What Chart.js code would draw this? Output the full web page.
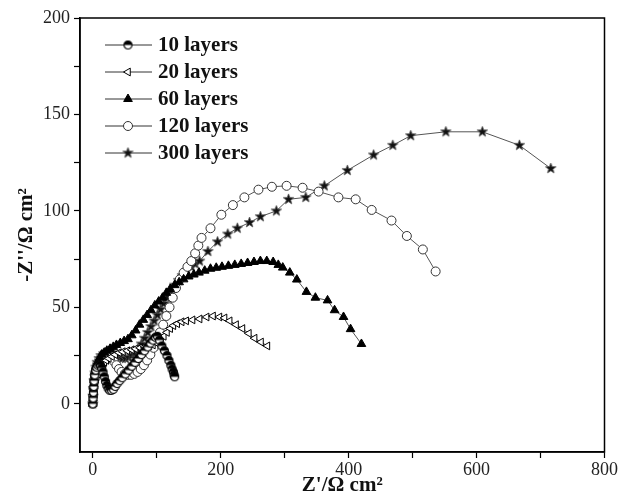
<!DOCTYPE html>
<html lang="en">
<head>
<meta charset="utf-8" />
<title>Nyquist plot - layers</title>
<script src="https://cdn.jsdelivr.net/npm/chart.js/dist/chart.umd.min.js"></script>
<style>
  * { margin: 0; padding: 0; }
  body { background: #fff; }
</style>
</head>
<body>
<canvas id="myChart" width="619" height="501"></canvas>
<script>
// data: [Z', -Z''] in Ohm cm2
const layers10 = [[0,0],[0.5,3],[1,6],[1.5,9],[2,12],[3,15],[4.5,17.5],[6,19],[8,20],[10,20.5],[12,20],[14,18.5],[16,16.5],[18,14],[20,11.5],[22,9.5],[24,8],[26.5,7],[29,7],[32,7.5],[35,9],[38,10.5],[42,12],[46,13.5],[51,15.5],[56,17.5],[61,19.5],[66,21.5],[71,23.5],[76,25.5],[81,27.5],[86,29.5],[90,31.5],[94,33],[98,34.5],[101,35],[104,33],[108,30],[112,27.5],[116,25],[119,22.5],[122,20],[124,18],[126,16.5],[127,15],[128,14]];
const layers20 = [[0,0],[0.5,2.5],[1,5],[2,7.5],[3,10],[4.5,12],[6,14],[8,15.5],[10,17],[12,18.5],[14,19.5],[16,20.5],[18,21.5],[21,22.5],[25,23.5],[30,24.5],[35,25.5],[41,26.5],[47,27],[54,27.5],[61,28],[67,28.5],[74,29],[81,29.5],[88,30],[94,30.5],[100,31.5],[106,33],[111,35],[116,37],[121,39],[126,40.5],[132,41.5],[139,42.5],[146,43],[156,43.5],[167,44],[178,45],[188,45.5],[198,45],[206,44.5],[214,43],[224,41],[234,39],[244,36.5],[253,34],[263,32],[273,30]];
const layers60 = [[0,0],[0.3,3],[0.7,6],[1.2,9],[2,12],[3,15],[4.5,18],[6,20],[8,22],[11,24],[14,25.5],[18,26.5],[22,27.5],[27,28.5],[32,29.5],[37,30.5],[43,31.5],[49,32.5],[55,33.5],[61,35.5],[67,38],[73,41],[79,43.5],[85,46],[91,48.5],[97,51],[103,53],[109,55],[115,57.5],[121,59.5],[128,61.5],[135,63],[142,64.5],[150,66],[158,67],[166,68],[175,69],[184,70],[193,70.5],[202,71],[212,71.5],[222,72],[232,72.5],[242,73],[252,73.5],[262,74],[272,74],[282,73.5],[290,72],[297,70.6],[308,68],[319,64.4],[334,58],[348,55],[367,53.6],[378,48.5],[392,45],[403,38.7],[420,31]];
const layers120 = [[0,0],[0.5,4],[1,8],[2,12],[3,15],[5,18],[7,20.5],[10,22.5],[13,24],[17,25],[21,25.5],[25,25],[29,24],[33,22],[37,20],[41,18],[45,16.5],[50,15.5],[55,15],[60,15],[65,15.5],[70,16.5],[75,18],[80,20],[85,22.5],[90,25.5],[95,29],[100,33],[105,37],[110,41],[115,45.5],[120,50],[125,55],[130,60],[136,64.5],[142,68],[148,71],[154,74],[160,78],[165,82],[170,86],[184,91],[201,98],[219,103],[237,107],[259,111],[280,112.5],[303,113],[328,112],[353,110],[384,107],[411,106],[436,100.5],[467,95],[491,87],[516,80],[536,68.6]];
const layers300 = [[0,0],[0.5,4],[1,8],[2,12],[3.5,16],[5,19],[7,21.5],[10,23.5],[13,25],[17,26],[21,26.5],[26,26.5],[31,26],[36,25],[41,24],[46,23.5],[51,23.5],[56,24],[61,25],[66,26.5],[71,28.5],[76,31],[81,34],[86,37],[91,40],[96,43],[101,46],[106,49],[111,52],[116,55],[122,58.5],[128,61.5],[134,64],[140,66.5],[147,69],[154,71],[160,72.5],[167,74],[180,79],[195,84],[211,88],[226,91],[245,94],[262,97],[287,100],[306,106],[333,107],[362,113],[398,121],[439,129],[469,134],[497,139],[552,141],[609,141],[667,134],[716,122]];

const seriesNames = ["10 layers", "20 layers", "60 layers", "120 layers", "300 layers"];
const xTickValues = [0, 100, 200, 300, 400, 500, 600, 700, 800];
const xTickLabels = [0, 200, 400, 600, 800];
const yTickValues = [0, 25, 50, 75, 100, 125, 150, 175, 200];
const yTickLabels = [0, 50, 100, 150, 200];

// little canvases used as point styles
function makeMarker(size, draw) {
  const c = document.createElement("canvas");
  c.width = size;
  c.height = size;
  draw(c.getContext("2d"), size / 2);
  return c;
}
const halfCircle = makeMarker(11, (g, c) => {
  g.beginPath(); g.arc(c, c, 4, 0, 2 * Math.PI); g.fillStyle = "#fff"; g.fill();
  g.beginPath(); g.arc(c, c, 4, Math.PI, 2 * Math.PI); g.fillStyle = "#000"; g.fill();
  g.beginPath(); g.arc(c, c, 4, 0, 2 * Math.PI); g.lineWidth = 1.2; g.strokeStyle = "#000"; g.stroke();
});
const star = makeMarker(13, (g, c) => {
  g.beginPath();
  for (let i = 0; i < 10; i++) {
    const r = i % 2 === 0 ? 5.5 : 2.3;
    const a = -Math.PI / 2 + i * Math.PI / 5;
    g.lineTo(c + r * Math.cos(a), c + r * Math.sin(a));
  }
  g.closePath();
  g.fillStyle = "#111"; g.fill();
  g.lineWidth = 0.8; g.strokeStyle = "#555"; g.stroke();
});

const pts = arr => arr.map(p => ({ x: p[0], y: p[1] }));

const data = {
  datasets: [
    { label: seriesNames[0], data: pts(layers10), pointStyle: halfCircle, pointRadius: 4,
      pointBackgroundColor: "#000", pointBorderColor: "#000" },
    { label: seriesNames[1], data: pts(layers20), pointStyle: "triangle", pointRotation: -90, pointRadius: 4.5,
      pointBackgroundColor: "#fff", pointBorderColor: "#000" },
    { label: seriesNames[2], data: pts(layers60), pointStyle: "triangle", pointRadius: 5,
      pointBackgroundColor: "#000", pointBorderColor: "#000" },
    { label: seriesNames[3], data: pts(layers120), pointStyle: "circle", pointRadius: 4.5,
      pointBackgroundColor: "#fff", pointBorderColor: "#333" },
    { label: seriesNames[4], data: pts(layers300), pointStyle: star, pointRadius: 5,
      pointBackgroundColor: "#000", pointBorderColor: "#000" },
  ].map(ds => Object.assign({
    showLine: true, borderColor: "#555", borderWidth: 1, pointBorderWidth: 1, tension: 0,
  }, ds)),
};

// legend sits inside the plot, top left
const insideLegend = {
  id: "insideLegend",
  afterDatasetsDraw(chart) {
    const { ctx, chartArea } = chart;
    ctx.save();
    chart.data.datasets.forEach((ds, i) => {
      const y = chartArea.top + 27 + i * 27;
      const x0 = chartArea.left + 25;
      ctx.strokeStyle = "#333";
      ctx.lineWidth = 1;
      ctx.beginPath(); ctx.moveTo(x0, y); ctx.lineTo(x0 + 47, y); ctx.stroke();
      ctx.fillStyle = ds.pointBackgroundColor;
      ctx.strokeStyle = ds.pointBorderColor;
      Chart.helpers.drawPoint(ctx, {
        pointStyle: ds.pointStyle, radius: ds.pointRadius,
        rotation: ds.pointRotation || 0, borderWidth: 1,
      }, x0 + 23, y);
      ctx.fillStyle = "#111";
      ctx.font = 'bold 21px "Liberation Serif"';
      ctx.textBaseline = "middle";
      ctx.fillText(ds.label, x0 + 53, y + 1);
    });
    ctx.restore();
  },
};

// closed frame round the plot
const frame = {
  id: "frame",
  afterDraw(chart) {
    const { ctx, chartArea: a } = chart;
    ctx.save();
    ctx.strokeStyle = "#000";
    ctx.lineWidth = 1.5;
    ctx.strokeRect(a.left, a.top, a.right - a.left, a.bottom - a.top);
    ctx.restore();
  },
};

const tickFont = { family: "Liberation Serif", size: 18 };
const titleFont = { family: "Liberation Serif", size: 21, weight: "bold" };

const config = {
  type: "scatter",
  data,
  options: {
    responsive: false,
    animation: false,
    devicePixelRatio: 1,
    layout: { padding: { top: 18, right: 14, left: 0, bottom: 0 } },
    plugins: { legend: { display: false }, tooltip: { enabled: false } },
    scales: {
      x: {
        type: "linear", min: -20, max: 800,
        afterBuildTicks: s => { s.ticks = xTickValues.map(v => ({ value: v })); },
        afterFit: s => { s.height = 49; },
        ticks: { autoSkip: false, maxRotation: 0, padding: 1, color: "#222", font: tickFont,
          callback: v => (xTickLabels.includes(v) ? v : "") },
        grid: { drawOnChartArea: false, tickLength: 6, tickColor: "#000", tickWidth: 1.2 },
        border: { color: "#000", width: 1.5 },
        title: { display: true, text: "Z'/\u03A9 cm\u00B2", color: "#111", font: titleFont, padding: { top: 0, bottom: 3 } },
      },
      y: {
        type: "linear", min: -25, max: 200,
        afterBuildTicks: s => { s.ticks = yTickValues.map(v => ({ value: v })); },
        afterFit: s => { s.width = 80; },
        ticks: { autoSkip: false, padding: 4, color: "#222", font: tickFont,
          callback: v => (yTickLabels.includes(v) ? v : "") },
        grid: { drawOnChartArea: false, tickLength: 6, tickColor: "#000", tickWidth: 1.2 },
        border: { color: "#000", width: 1.5 },
        title: { display: true, text: "-Z''/\u03A9 cm\u00B2", color: "#111", font: titleFont, padding: { top: 14, bottom: 0 } },
      },
    },
  },
  plugins: [insideLegend, frame],
};

const myChart = new Chart(document.getElementById("myChart"), config);
</script>
</body>
</html>
